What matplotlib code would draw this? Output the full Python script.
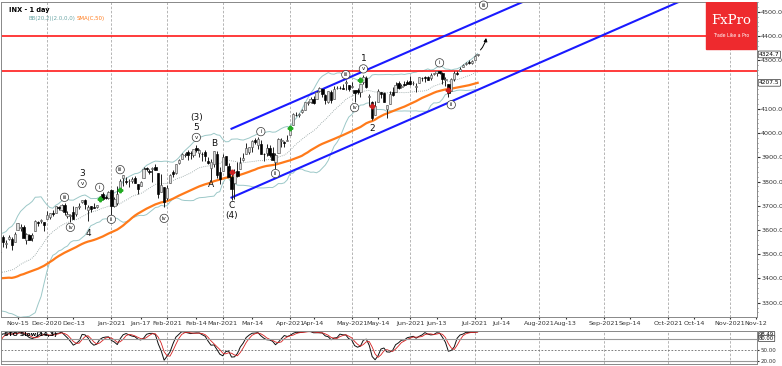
import numpy as np
import pandas as pd
import matplotlib
matplotlib.use("Agg")
import matplotlib.pyplot as plt
from matplotlib.patches import Rectangle

# closes before the first full OHLC bar (Aug 27 - Oct 9 2020), only used for SMA / BB warm-up
history_closes = [3484, 3508, 3500,
                  3527, 3580, 3455, 3427, 3331, 3399, 3340, 3341, 3383, 3401, 3385,
                  3357, 3319, 3281, 3315, 3237, 3246, 3298, 3351, 3335, 3363,
                  3381, 3348, 3408, 3361, 3419, 3447, 3477]

# daily bars Oct 12 2020 - Jul 2 2021
opens = [3464, 3534, 3515, 3453, 3493, 3494, 3439, 3439, 3438, 3464, 3441, 3404, 3343, 3277, 3294,
         3296, 3336, 3406, 3485, 3509, 3570, 3544, 3563, 3563, 3552, 3601, 3610, 3612, 3559, 3580, 3566, 3594, 3635, 3638, 3634,
         3645, 3653, 3669, 3670, 3694, 3683, 3705, 3659, 3656, 3676, 3667, 3696, 3714, 3723, 3684, 3698, 3693, 3694, 3723, 3750, 3736, 3733,
         3764, 3699, 3712, 3764, 3815, 3803, 3801, 3802, 3814, 3788, 3781, 3816, 3857, 3844, 3852, 3862, 3836, 3755, 3778,
         3731, 3792, 3840, 3837, 3878, 3893, 3910, 3920, 3917, 3911, 3939, 3918, 3915, 3921, 3886, 3857, 3873, 3915, 3839,
         3842, 3904, 3863, 3818, 3793, 3844, 3851, 3891, 3915, 3924, 3942, 3973, 3949, 3953, 3914, 3916, 3937, 3919, 3879, 3917, 3969, 3963, 3967,
         3992, 4034, 4075, 4074, 4089, 4096, 4124, 4130, 4141, 4140, 4175, 4180, 4159, 4128, 4171, 4139, 4185, 4188, 4185, 4206, 4198,
         4191, 4179, 4177, 4170, 4210, 4229, 4150, 4130, 4074, 4130, 4169, 4165, 4098, 4122, 4168, 4171, 4205, 4191, 4201, 4211,
         4216, 4207, 4191, 4206, 4229, 4233, 4232, 4228, 4243, 4249, 4255, 4248, 4220, 4204, 4174, 4224, 4249, 4257, 4274, 4284, 4294, 4290,
         4301, 4322]
highs = [3549, 3534, 3527, 3489, 3516, 3502, 3477, 3464, 3460, 3466, 3441, 3409, 3343, 3341, 3305,
         3330, 3389, 3486, 3529, 3521, 3578, 3558, 3581, 3570, 3593, 3628, 3624, 3619, 3586, 3582, 3589, 3643, 3636, 3644, 3634,
         3679, 3670, 3683, 3699, 3698, 3708, 3712, 3678, 3665, 3698, 3695, 3711, 3725, 3726, 3703, 3698, 3712, 3703, 3740, 3756, 3744, 3760,
         3770, 3738, 3783, 3811, 3826, 3817, 3810, 3820, 3823, 3789, 3804, 3859, 3861, 3852, 3860, 3871, 3836, 3830, 3778,
         3784, 3831, 3847, 3872, 3894, 3916, 3919, 3932, 3925, 3935, 3950, 3933, 3921, 3931, 3902, 3895, 3928, 3925, 3861,
         3915, 3906, 3875, 3843, 3851, 3881, 3903, 3918, 3960, 3944, 3970, 3981, 3983, 3970, 3919, 3955, 3949, 3942, 3919, 3978, 3981, 3968, 3994,
         4020, 4083, 4087, 4083, 4098, 4129, 4131, 4148, 4151, 4173, 4191, 4181, 4160, 4175, 4179, 4194, 4194, 4193, 4201, 4218, 4198,
         4209, 4179, 4187, 4202, 4238, 4237, 4162, 4134, 4131, 4183, 4171, 4170, 4117, 4172, 4189, 4209, 4213, 4203, 4213, 4218,
         4234, 4215, 4205, 4233, 4233, 4236, 4237, 4249, 4249, 4255, 4258, 4252, 4233, 4204, 4226, 4255, 4256, 4272, 4286, 4292, 4300, 4302,
         4321, 4327]
lows = [3464, 3500, 3480, 3441, 3484, 3419, 3439, 3433, 3415, 3441, 3364, 3388, 3268, 3259, 3234,
        3279, 3336, 3405, 3485, 3484, 3530, 3526, 3557, 3519, 3552, 3601, 3595, 3567, 3544, 3557, 3553, 3594, 3617, 3630, 3594,
        3645, 3645, 3658, 3670, 3684, 3678, 3660, 3648, 3633, 3645, 3659, 3688, 3711, 3685, 3636, 3676, 3690, 3690, 3723, 3723, 3730, 3726,
        3662, 3695, 3705, 3764, 3783, 3789, 3776, 3792, 3792, 3749, 3780, 3816, 3845, 3831, 3797, 3847, 3732, 3755, 3694,
        3725, 3792, 3817, 3830, 3874, 3893, 3903, 3890, 3891, 3900, 3923, 3901, 3885, 3884, 3874, 3805, 3859, 3815, 3789,
        3842, 3868, 3818, 3723, 3730, 3819, 3851, 3885, 3915, 3915, 3924, 3953, 3935, 3914, 3885, 3906, 3901, 3889, 3853, 3917, 3943, 3944, 3966,
        3992, 4034, 4069, 4068, 4082, 4095, 4114, 4124, 4120, 4140, 4171, 4150, 4119, 4126, 4123, 4139, 4182, 4181, 4181, 4176, 4174,
        4188, 4128, 4163, 4147, 4202, 4188, 4111, 4056, 4073, 4130, 4143, 4127, 4062, 4122, 4152, 4171, 4182, 4188, 4195, 4203,
        4197, 4199, 4168, 4206, 4215, 4210, 4219, 4221, 4239, 4235, 4242, 4203, 4195, 4150, 4174, 4217, 4241, 4257, 4271, 4280, 4287, 4287,
        4301, 4318]
closes = [3534, 3511, 3489, 3483, 3484, 3427, 3443, 3435, 3453, 3465, 3401, 3391, 3271, 3310, 3270,
          3310, 3370, 3443, 3510, 3509, 3550, 3545, 3573, 3537, 3585, 3627, 3610, 3568, 3582, 3558, 3578, 3636, 3630, 3638, 3622,
          3662, 3669, 3666, 3699, 3692, 3702, 3673, 3668, 3663, 3647, 3695, 3701, 3722, 3709, 3695, 3687, 3690, 3703, 3735, 3727, 3732, 3756,
          3700, 3726, 3748, 3803, 3825, 3799, 3801, 3809, 3795, 3768, 3798, 3851, 3853, 3841, 3855, 3849, 3750, 3787, 3714,
          3774, 3826, 3830, 3872, 3887, 3915, 3911, 3910, 3916, 3934, 3932, 3931, 3913, 3906, 3876, 3881, 3925, 3829, 3811,
          3901, 3870, 3820, 3768, 3841, 3821, 3875, 3898, 3939, 3943, 3968, 3962, 3974, 3915, 3913, 3940, 3910, 3889, 3909, 3974, 3971, 3958, 3973,
          4019, 4077, 4074, 4079, 4097, 4129, 4127, 4141, 4124, 4170, 4185, 4163, 4135, 4173, 4135, 4180, 4187, 4186, 4183, 4211, 4181,
          4192, 4165, 4168, 4201, 4232, 4189, 4152, 4063, 4113, 4174, 4163, 4128, 4116, 4160, 4156, 4198, 4188, 4195, 4200, 4204,
          4202, 4208, 4192, 4230, 4227, 4227, 4220, 4239, 4247, 4255, 4247, 4224, 4222, 4166, 4224, 4246, 4242, 4266, 4281, 4291, 4291, 4298,
          4320, 4324.7]

holidays = ["2020-09-07", "2020-11-26", "2020-12-25", "2021-01-01",
            "2021-01-18", "2021-02-15", "2021-04-02", "2021-05-31"]
first_visible = "2020-11-09"

# horizontal levels and channel anchors (date, price)
red_levels = [4401, 4257]
channel_upper = [("2021-03-04", 4018), ("2021-07-01", 4455)]
channel_lower = [("2021-03-04", 3734), ("2021-07-01", 4173)]
channel_end = "2021-11-12"

wave_text = [("2020-12-17", 3833, "3"), ("2020-12-21", 3586, "4"),
             ("2021-02-16", 4064, "(3)"), ("2021-02-16", 4023, "5"),
             ("2021-02-24", 3957, "B"), ("2021-02-23", 3788, "A"),
             ("2021-03-04", 3702, "C"), ("2021-03-04", 3660, "(4)"),
             ("2021-05-07", 4307, "1"), ("2021-05-12", 4019, "2")]
wave_circled = [("2020-12-09", 3735, "iii"), ("2020-12-11", 3611, "iv"),
                ("2020-12-17", 3792, "v"), ("2020-12-28", 3776, "i"),
                ("2021-01-04", 3644, "ii"), ("2021-01-07", 3849, "iii"),
                ("2021-01-29", 3648, "iv"), ("2021-02-16", 3982, "v"),
                ("2021-03-18", 4006, "i"), ("2021-03-25", 3833, "ii"),
                ("2021-04-29", 4241, "iii"), ("2021-05-04", 4105, "iv"),
                ("2021-05-07", 4265, "v"), ("2021-06-15", 4290, "i"),
                ("2021-06-21", 4117, "ii"), ("2021-07-06", 4528, "iii")]
green_marks = [("2020-12-28", 3730), ("2021-01-07", 3767), ("2021-04-01", 4023), ("2021-05-06", 4220)]
red_marks = [("2021-03-04", 3841), ("2021-05-12", 4113), ("2021-06-18", 4179)]

tick_dates = ["2020-11-15", "2020-12-01", "2020-12-13", "2021-01-01", "2021-01-17", "2021-02-01",
              "2021-02-14", "2021-03-01", "2021-03-14", "2021-04-01", "2021-04-14", "2021-05-01",
              "2021-05-14", "2021-06-01", "2021-06-13", "2021-07-01", "2021-07-14", "2021-08-01",
              "2021-08-13", "2021-09-01", "2021-09-14", "2021-10-01", "2021-10-14", "2021-11-01",
              "2021-11-12"]
tick_labels = ["Nov-15", "Dec-2020", "Dec-13", "Jan-2021", "Jan-17", "Feb-2021", "Feb-14",
               "Mar-2021", "Mar-14", "Apr-2021", "Apr-14", "May-2021", "May-14", "Jun-2021",
               "Jun-13", "Jul-2021", "Jul-14", "Aug-2021", "Aug-13", "Sep-2021", "Sep-14",
               "Oct-2021", "Oct-14", "Nov-2021", "Nov-12"]

# ---- axis of trading days (past) + weekdays (future)
dates = pd.bdate_range("2020-08-27", "2021-07-02")
dates = dates[~dates.isin(pd.to_datetime(holidays))]
axis_dates = dates.append(pd.bdate_range("2021-07-05", "2021-11-30"))
start = np.searchsorted(axis_dates, pd.Timestamp(first_visible))


def xpos(d):
    return np.searchsorted(axis_dates, pd.Timestamp(d)) - start


n_hist = len(history_closes)
all_close = pd.Series(history_closes + closes, dtype=float)
x_all = np.arange(len(all_close)) - start
x_bar = np.arange(len(closes)) + n_hist - start

sma50 = all_close.rolling(50).mean()
mid = all_close.rolling(20).mean()
sd = all_close.rolling(20).std(ddof=0)
bb_up, bb_lo = mid + 2 * sd, mid - 2 * sd

hh = pd.Series(highs).rolling(14).max()
ll = pd.Series(lows).rolling(14).min()
fast_k = (pd.Series(closes) - ll) / (hh - ll) * 100
slow_k = fast_k.rolling(3).mean()
slow_d = slow_k.rolling(3).mean()

W, H = 782, 366
fig = plt.figure(figsize=(W / 100, H / 100), dpi=100)
ax = fig.add_axes([1 / W, 1 - 317 / H, 756 / W, 315 / H])
ax2 = fig.add_axes([1 / W, 1 - 364 / H, 756 / W, 33 / H], sharex=ax)

xmin = -0.68
xmax = xmin + 756 / 2.93
vis = x_all >= xmin - 1

# month grid
for d, lab in zip(tick_dates, tick_labels):
    if "20" in lab:
        for a in (ax, ax2):
            a.axvline(xpos(d), color="#aaaaaa", lw=0.6, ls=(0, (3, 2)), zorder=0)

# bollinger + sma
ax.plot(x_all[vis], bb_up[vis], color="#9cc8c8", lw=0.7, zorder=1)
ax.plot(x_all[vis], bb_lo[vis], color="#9cc8c8", lw=0.7, zorder=1)
ax.plot(x_all[vis], mid[vis], color="#8c9c9c", lw=0.6, ls=(0, (1, 1.5)), zorder=1)
ax.plot(x_all[vis], sma50[vis], color="#ff7a1a", lw=1.6, zorder=2)

# candles
o, h, l, c = map(np.array, (opens, highs, lows, closes))
up = c >= o
ax.vlines(x_bar, l, h, color="#222222", lw=0.7, zorder=3)
body = np.maximum(np.abs(c - o), 1.5)
ax.bar(x_bar[up], body[up], bottom=np.minimum(o, c)[up], width=0.8,
       color="#dddddd", edgecolor="#555555", linewidth=0.45, zorder=4)
ax.bar(x_bar[~up], body[~up], bottom=np.minimum(o, c)[~up], width=0.8,
       color="black", edgecolor="black", linewidth=0.45, zorder=4)

for d, p in green_marks:
    ax.plot(xpos(d), p, marker="P", ms=3.2, color="#22aa22", mec="#22aa22", zorder=5)
for d, p in red_marks:
    ax.plot(xpos(d), p, marker="P", ms=3.2, color="#cc2222", mec="#cc2222", zorder=5)

# levels and channel
for lv in red_levels:
    ax.axhline(lv, color="#ff1a1a", lw=1.2, zorder=2)
for line in (channel_upper, channel_lower):
    (d1, p1), (d2, p2) = line
    x1, x2 = xpos(d1), xpos(d2)
    slope = (p2 - p1) / (x2 - x1)
    xe = xpos(channel_end)
    ax.plot([x1, xe], [p1, p1 + slope * (xe - x1)], color="#1a1aff", lw=1.5, zorder=2)

# wave labels
for d, p, t in wave_text:
    ax.text(xpos(d), p, t, fontsize=6.5, ha="center", va="center", color="#111111", zorder=6)
for d, p, t in wave_circled:
    ax.text(xpos(d), p, t, fontsize=4.0, ha="center", va="center", color="#111111", zorder=6,
            bbox=dict(boxstyle="circle,pad=0.3", fc="white", ec="#333333", lw=0.5))

ax.annotate("", xy=(xpos("2021-07-07"), 4404), xytext=(xpos("2021-07-02") + 0.3, 4335),
            arrowprops=dict(arrowstyle="-|>", lw=0.7, color="black", mutation_scale=5,
                            connectionstyle="arc3,rad=0.2"), zorder=6)

# axes styling
ax.set_xlim(xmin, xmax)
ax.set_ylim(3241, 4541)
ax.yaxis.tick_right()
yt = [v for v in range(3300, 4501, 100) if v != 4200]
ax.set_yticks(yt)
ax.set_yticklabels([f"{v:.1f}" for v in yt])
ax.set_yticks(np.arange(3260, 4541, 20), minor=True)
ax.tick_params(axis="y", which="major", labelsize=4.6, length=2, pad=1, colors="#333333")
ax.tick_params(axis="y", which="minor", length=1, colors="#666666")
ax.set_xticks([xpos(d) for d in tick_dates])
ax.set_xticklabels(tick_labels)
ax.tick_params(axis="x", labelsize=4.6, length=1.5, pad=1.5, colors="#333333")
for s in ax.spines.values():
    s.set_color("#888888")
    s.set_linewidth(0.7)

ax.text(0.01, 0.985, "INX - 1 day", transform=ax.transAxes, fontsize=4.8, fontweight="bold",
        va="top", ha="left")
ax.text(0.036, 0.955, "BB(20,2)(2.0,0,0)", transform=ax.transAxes, fontsize=3.9, color="#6aa5a5",
        va="top", ha="left")
ax.text(0.1, 0.955, "SMA(C,50)", transform=ax.transAxes, fontsize=3.9, color="#ff7a1a",
        va="top", ha="left")

# price boxes on the right scale
for val in (closes[-1], sma50.iloc[-1]):
    ax.annotate(f"{val:.1f}", xy=(1.0, val), xycoords=("axes fraction", "data"),
                xytext=(1.5, 0), textcoords="offset points", fontsize=4.2, va="center", ha="left",
                bbox=dict(boxstyle="round,pad=0.15", fc="white", ec="#333333", lw=0.5),
                annotation_clip=False)

# FxPro badge
ax.add_patch(Rectangle((0.933, 0.85), 0.066, 0.15, transform=ax.transAxes,
                       color="#ee2a2e", zorder=7))
ax.text(0.966, 0.94, "FxPro", transform=ax.transAxes, fontsize=9.5, color="white",
        family="DejaVu Serif", ha="center", va="center", zorder=8)
ax.text(0.966, 0.895, "Trade Like a Pro", transform=ax.transAxes, fontsize=3.3, color="white",
        ha="center", va="center", zorder=8)

# stochastic panel
ax2.plot(x_bar, slow_k, color="#111111", lw=0.7)
ax2.plot(x_bar, slow_d, color="#d62020", lw=0.6)
ax2.axhline(80, color="#999999", lw=0.8)
ax2.axhline(20, color="#999999", lw=0.8)
ax2.axhline(50, color="#666666", lw=0.6, ls=(0, (2, 2)))
ax2.set_ylim(11, 100.5)
ax2.yaxis.tick_right()
ax2.set_yticks([20, 50])
ax2.set_yticklabels(["20.00", "50.00"])
ax2.tick_params(axis="y", labelsize=4.0, length=1.5, pad=1, colors="#333333")
ax2.tick_params(axis="x", bottom=False, labelbottom=False)
for s in ax2.spines.values():
    s.set_color("#888888")
    s.set_linewidth(0.7)
ax2.text(0.004, 0.97, "STO Slow(14,3)", transform=ax2.transAxes, fontsize=4.4,
         fontweight="bold", va="top", ha="left", zorder=5)
for val, yy in ((slow_k.iloc[-1], 91), (80.0, 80)):
    ax2.annotate(f"{val:.2f}", xy=(1.0, yy), xycoords=("axes fraction", "data"),
                 xytext=(1.5, 0), textcoords="offset points", fontsize=3.8, va="center",
                 ha="left", bbox=dict(boxstyle="round,pad=0.1", fc="white", ec="#333333", lw=0.5),
                 annotation_clip=False)

fig.savefig("out.png", dpi=100)
